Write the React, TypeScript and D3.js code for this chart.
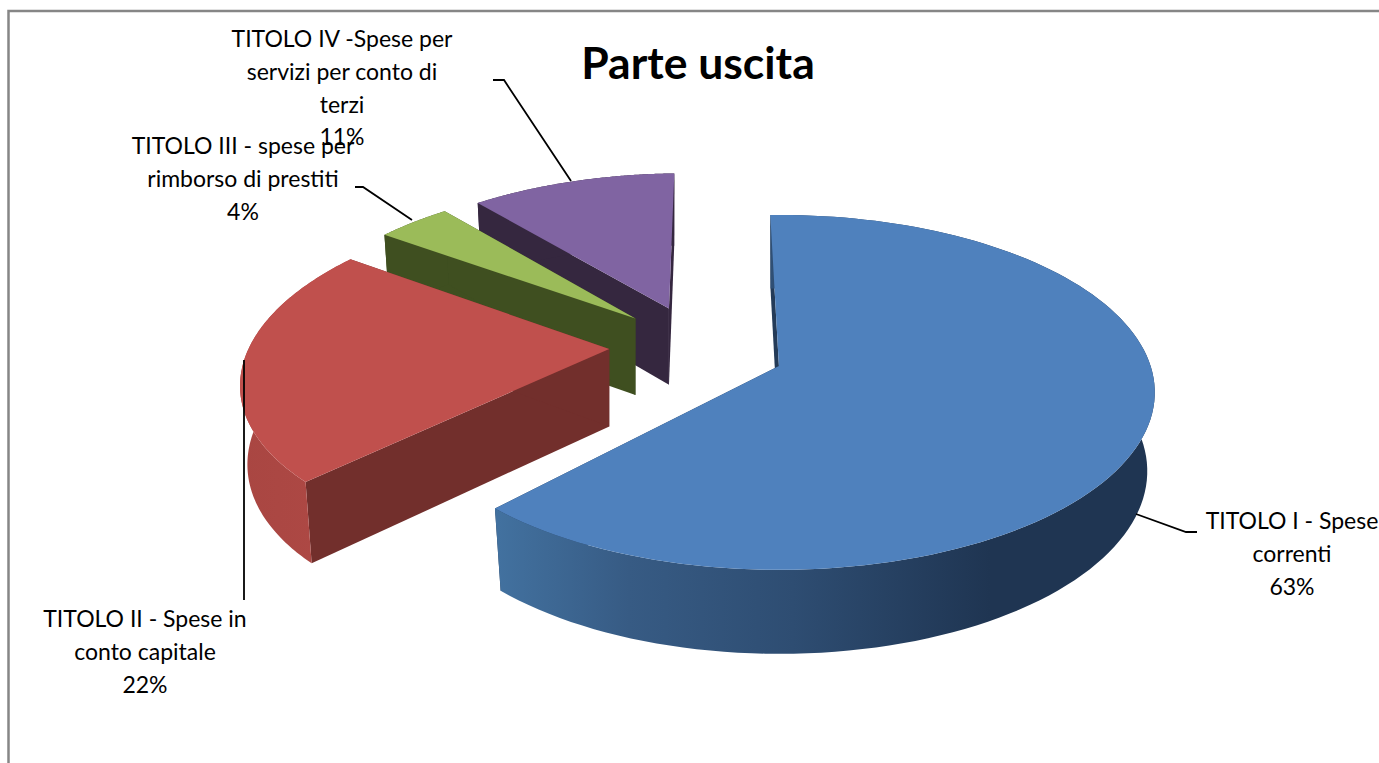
import React from "react";
import * as d3 from "d3";

const categories = ["TITOLO I - Spese correnti", "TITOLO II - Spese in conto capitale", "TITOLO III - spese per rimborso di prestiti", "TITOLO IV -Spese per servizi per conto di terzi"];
const shares = [62.35, 22.85, 3.9, 10.9];
const topColors = ["#4f81bd", "#c0504d", "#9bbb59", "#8064a2"];
const wallColors = ["#243b58", "#722f2c", "#3f4f20", "#35273f"];
const labelLines = [
  ["TITOLO I - Spese", "correnti", "63%"],
  ["TITOLO II - Spese in", "conto capitale", "22%"],
  ["TITOLO III - spese per", "rimborso di prestiti", "4%"],
  ["TITOLO IV -Spese per", "servizi per conto di", "terzi", "11%"],
];
const labelX = [1292, 145, 243, 342];
const labelY = [529, 627, 154, 47];
const leaders = [
  [[1197, 532], [1186, 532], [1136, 514]],
  [[244, 360], [244, 600]],
  [[355, 187], [363, 187], [412, 220]],
  [[493, 80], [504, 80], [571, 181]],
];
const blueWallStops: [number, string][] = [[0, "#42719f"], [0.2, "#375b84"], [0.45, "#2e4d72"], [0.75, "#1f3552"], [1, "#1f3552"]];
const redWallStops: [number, string][] = [[0, "#a94642"], [1, "#ad4844"]];

const W = 1379, H = 763;
const explode = 0.24;
const rotation = (-1.5 * Math.PI) / 180;
const cp = -0.148, cx = 778, yA = 119.5, yB = 367, R = 372;
const C: [number, number] = [-0.222, -0.09];
const detachedLift = 0.04;
const sliceRadius: [number, number][] = [[1, 1], [0.985, 1], [0.97, 0.98], [0.965, 0.98]];
const startShiftDeg = [0, -2, 0, 0];

const pieGen = d3.pie<number>().sort(null).startAngle(rotation).endAngle(rotation + 2 * Math.PI);
const arcs = pieGen(shares);

function project(X: number, Y: number) {
  const s = 1 / (1 + cp * Y);
  return { x: cx + R * X * s, y: (yA * Y + yB) * s, s };
}
const line = d3.line<[number, number]>().curve(d3.curveLinear);

function App() {
  const slices = arcs.map((a, i) => {
    const mid = (a.startAngle + a.endAngle) / 2;
    const ax = C[0] + explode * Math.sin(mid);
    const ay = C[1] - explode * Math.cos(mid) - (i === 0 ? 0 : detachedLift);
    const [rx, ry] = sliceRadius[i];
    const apex = project(ax, ay);
    const bottom = (p: { x: number; y: number; s: number }): [number, number] => [
      apex.x + (p.x - apex.x) * 0.98,
      p.y + 78 + (p.s - 1) * 35,
    ];
    const a0 = a.startAngle - (startShiftDeg[i] * Math.PI) / 180;
    const angles = d3.range(0, 121).map((k) => a0 + ((a.endAngle - a0) * k) / 120);
    const rim = angles.map((t) => project(ax + rx * Math.sin(t), ay - ry * Math.cos(t)));
    const topPts: [number, number][] = [[apex.x, apex.y], ...rim.map((p) => [p.x, p.y] as [number, number])];
    const rimBottom = rim.map(bottom);
    const outer: [number, number][] = [...rim.map((p) => [p.x, p.y] as [number, number]), ...rimBottom.slice().reverse()];
    const apexB = bottom(apex);
    const wall = (p: { x: number; y: number }, b: [number, number]): [number, number][] => [[apex.x, apex.y], [p.x, p.y], b, apexB];
    return { i, topPts, outer, startWall: wall(rim[0], rimBottom[0]), endWall: wall(rim[120], rimBottom[120]) };
  });
  const order = [3, 2, 1, 0];
  return (
    <svg width={W} height={H} style={{ position: "absolute", left: 0, top: 0, background: "#fff" }}>
      <defs>
        <linearGradient id="wall0" gradientUnits="userSpaceOnUse" x1={498} x2={1154} y1={0} y2={0}>
          {blueWallStops.map(([o, c]) => <stop key={o} offset={o} stopColor={c} />)}
        </linearGradient>
        <linearGradient id="wall1" gradientUnits="userSpaceOnUse" x1={242} x2={316} y1={0} y2={0}>
          {redWallStops.map(([o, c]) => <stop key={o} offset={o} stopColor={c} />)}
        </linearGradient>
      </defs>
      <path d="M8.5,763 V11 H1379" fill="none" stroke="#868686" strokeWidth={2.5} />
      {order.map((idx) => {
        const s = slices[idx];
        return (
          <g key={idx}>
            <path d={line(s.startWall) + "Z"} fill={wallColors[idx]} />
            <path d={line(s.endWall) + "Z"} fill={wallColors[idx]} />
            <path d={line(s.outer) + "Z"} fill={idx < 2 ? `url(#wall${idx})` : wallColors[idx]} />
            <path d={line(s.topPts) + "Z"} fill={topColors[idx]} />
          </g>
        );
      })}
      {leaders.map((pts, i) => (
        <path key={i} d={line(pts as [number, number][]) as string} fill="none" stroke="#000" strokeWidth={1.8} />
      ))}
      <text x={698} y={79} textAnchor="middle" fontFamily="Lato" fontWeight={700} fontSize={44.5} fill="#000">Parte uscita</text>
      {labelLines.map((lines, i) => (
        <text key={categories[i]} textAnchor="middle" fontFamily="Lato" fontSize={23} fill="#000">
          {lines.map((t, j) => (
            <tspan key={j} x={labelX[i]} y={labelY[i] + j * 32.8}>{t}</tspan>
          ))}
        </text>
      ))}
    </svg>
  );
}

export default App;
